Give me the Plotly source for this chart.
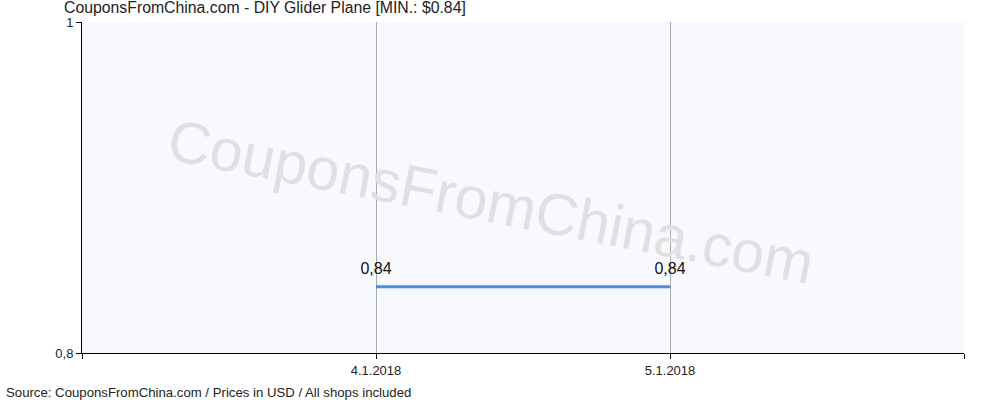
import plotly.graph_objs as go

# price history
dates = ["2018-01-04", "2018-01-05"]
prices = [0.84, 0.84]

tick_dates = ["2018-01-03", "2018-01-04", "2018-01-05", "2018-01-06"]
tick_labels = ["", "4.1.2018", "5.1.2018", ""]
y_ticks = [0.8, 1]

title_text = "CouponsFromChina.com - DIY Glider Plane [MIN.: $0.84]"
source_text = "Source: CouponsFromChina.com / Prices in USD / All shops included"
watermark = "CouponsFromChina.com"

trace = go.Scatter(
    x=dates,
    y=prices,
    mode='lines+markers+text',
    line=dict(color='#4a8ae4', width=3),
    # invisible markers only push the value labels up a bit
    marker=dict(size=12, color='rgba(0,0,0,0)'),
    texttemplate='%{y:.2f}',
    textposition='top center',
    textfont=dict(family='Arial', size=16, color='#111'),
    cliponaxis=False,
    hoverinfo='skip'
)

layout = go.Layout(
    width=1000,
    height=400,
    margin=dict(l=82, r=36, t=22, b=47),
    paper_bgcolor='white',
    plot_bgcolor='#f8f9fe',
    separators=',.',
    showlegend=False,
    font=dict(family='Arial', size=13, color='#222'),
    xaxis=dict(
        type='date',
        range=[tick_dates[0], tick_dates[-1]],
        tickmode='array',
        tickvals=tick_dates,
        ticktext=tick_labels,
        showgrid=True,
        gridcolor='#aaaaaa',
        gridwidth=1,
        showline=True,
        linecolor='black',
        linewidth=1,
        ticks='outside',
        ticklen=5,
        tickcolor='black',
        zeroline=False,
        fixedrange=True
    ),
    yaxis=dict(
        range=[0.8, 1],
        tickmode='array',
        tickvals=y_ticks,
        showgrid=True,
        gridcolor='#aaaaaa',
        gridwidth=1,
        showline=True,
        linecolor='black',
        linewidth=1,
        ticks='outside',
        ticklen=5,
        tickcolor='black',
        zeroline=False,
        fixedrange=True
    ),
    annotations=[
        dict(text=title_text, xref='paper', yref='paper', x=-0.023, y=1.0,
             xanchor='left', yanchor='bottom', yshift=4, showarrow=False,
             font=dict(size=15.8, color='#222')),
        dict(text=source_text, xref='paper', yref='paper', x=-0.089, y=0,
             xanchor='left', yanchor='top', yshift=-30, showarrow=False,
             font=dict(size=13.2, color='#222')),
        dict(text=watermark, xref='paper', yref='paper', x=0.464, y=0.456,
             xanchor='center', yanchor='middle', showarrow=False, textangle=11,
             font=dict(size=59, color='#e0e0e0'))
    ]
)

fig = go.Figure(data=[trace], layout=layout)
fig.write_html("out.html", config=dict(displayModeBar=False),
               post_script="document.body.style.margin='0';")
